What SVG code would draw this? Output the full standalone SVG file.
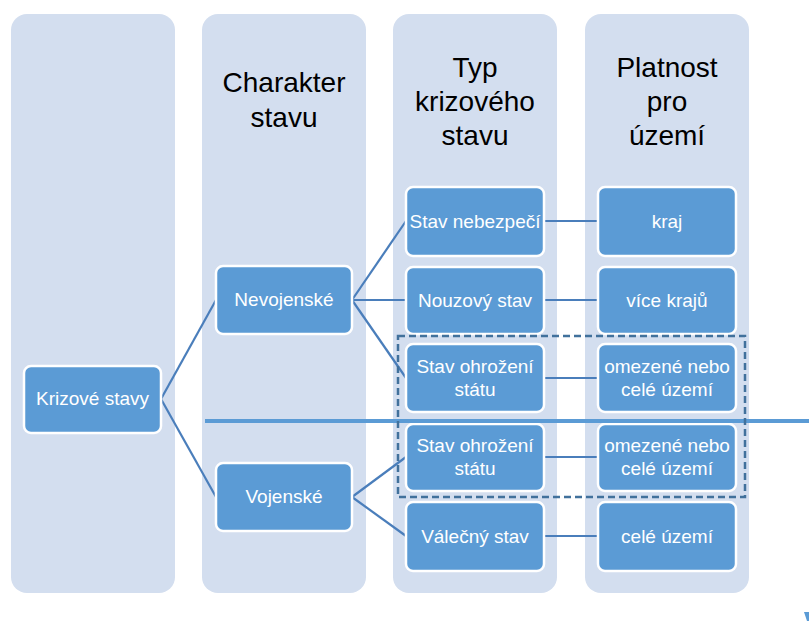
<svg xmlns="http://www.w3.org/2000/svg" width="809" height="621" viewBox="0 0 809 621">
<style>
.col{fill:#D3DEEF;}
.hdr{font-family:"Liberation Sans",Arial,sans-serif;font-size:28px;fill:#000;text-anchor:middle;}
.node rect{fill:#5B9BD5;stroke:#fff;stroke-width:2.5;}
.node text{font-family:"Liberation Sans",Arial,sans-serif;font-size:19px;fill:#fff;text-anchor:middle;}
.conn line{stroke:#4A7EBB;stroke-width:2.2;fill:none;}
</style>
<rect width="809" height="621" fill="#fff"/>
<g id="columns">
<rect class="col" x="11" y="14" width="164" height="579" rx="16"/>
<rect class="col" x="202" y="14" width="164" height="579" rx="16"/>
<rect class="col" x="393" y="14" width="164" height="579" rx="16"/>
<rect class="col" x="585" y="14" width="164" height="579" rx="16"/>
</g>
<g id="headers">
<text class="hdr" x="284" y="92">Charakter</text>
<text class="hdr" x="284" y="127">stavu</text>
<text class="hdr" x="475" y="77">Typ</text>
<text class="hdr" x="475" y="111">krizového</text>
<text class="hdr" x="475" y="145">stavu</text>
<text class="hdr" x="667" y="77">Platnost</text>
<text class="hdr" x="667" y="111">pro</text>
<text class="hdr" x="667" y="145">území</text>
</g>
<g id="connectors" class="conn">
<line x1="161" y1="399" x2="216" y2="300"/>
<line x1="161" y1="399" x2="216" y2="497"/>
<line x1="352" y1="300" x2="406" y2="221"/>
<line x1="352" y1="300" x2="406" y2="300"/>
<line x1="352" y1="300" x2="406" y2="378"/>
<line x1="352" y1="497" x2="406" y2="457"/>
<line x1="352" y1="497" x2="406" y2="536"/>
<line x1="544" y1="221" x2="598" y2="221"/>
<line x1="544" y1="300" x2="598" y2="300"/>
<line x1="544" y1="378" x2="598" y2="378"/>
<line x1="544" y1="457" x2="598" y2="457"/>
<line x1="544" y1="536" x2="598" y2="536"/>
</g>
<g id="n-krizove" class="node"><rect x="24" y="366" width="137" height="67" rx="7"/><text x="92.5" y="405">Krizové stavy</text></g>
<g id="n-nevojenske" class="node"><rect x="216" y="266" width="136" height="68" rx="7"/><text x="284" y="306">Nevojenské</text></g>
<g id="n-vojenske" class="node"><rect x="216" y="463" width="136" height="68" rx="7"/><text x="284" y="503">Vojenské</text></g>
<g id="n-nebezpeci" class="node"><rect x="406" y="187" width="138" height="69" rx="7"/><text x="475" y="228">Stav nebezpečí</text></g>
<g id="n-nouzovy" class="node"><rect x="406" y="267" width="138" height="67" rx="7"/><text x="475" y="307">Nouzový stav</text></g>
<g id="n-ohrozeni1" class="node"><rect x="406" y="344" width="138" height="68" rx="7"/><text x="475" y="373">Stav ohrožení</text><text x="475" y="396">státu</text></g>
<g id="n-ohrozeni2" class="node"><rect x="406" y="424" width="138" height="67" rx="7"/><text x="475" y="452">Stav ohrožení</text><text x="475" y="475">státu</text></g>
<g id="n-valecny" class="node"><rect x="406" y="502" width="138" height="69" rx="7"/><text x="475" y="543">Válečný stav</text></g>
<g id="n-kraj" class="node"><rect x="598" y="187" width="138" height="69" rx="7"/><text x="667" y="228">kraj</text></g>
<g id="n-vice" class="node"><rect x="598" y="267" width="138" height="67" rx="7"/><text x="667" y="307">více krajů</text></g>
<g id="n-omezene1" class="node"><rect x="598" y="344" width="138" height="68" rx="7"/><text x="667" y="373">omezené nebo</text><text x="667" y="396">celé území</text></g>
<g id="n-omezene2" class="node"><rect x="598" y="424" width="138" height="67" rx="7"/><text x="667" y="452">omezené nebo</text><text x="667" y="475">celé území</text></g>
<g id="n-cele" class="node"><rect x="598" y="502" width="138" height="69" rx="7"/><text x="667" y="543">celé území</text></g>
<line id="divider" x1="205" y1="421" x2="809" y2="421" stroke="#5B9BD5" stroke-width="4"/>
<rect id="dashed-group" x="398" y="336" width="347" height="161" fill="none" stroke="#41719C" stroke-width="2.5" stroke-dasharray="7,4"/>
<polygon points="804,612 809,612 809,621 807,621" fill="#5B9BD5"/>
</svg>
